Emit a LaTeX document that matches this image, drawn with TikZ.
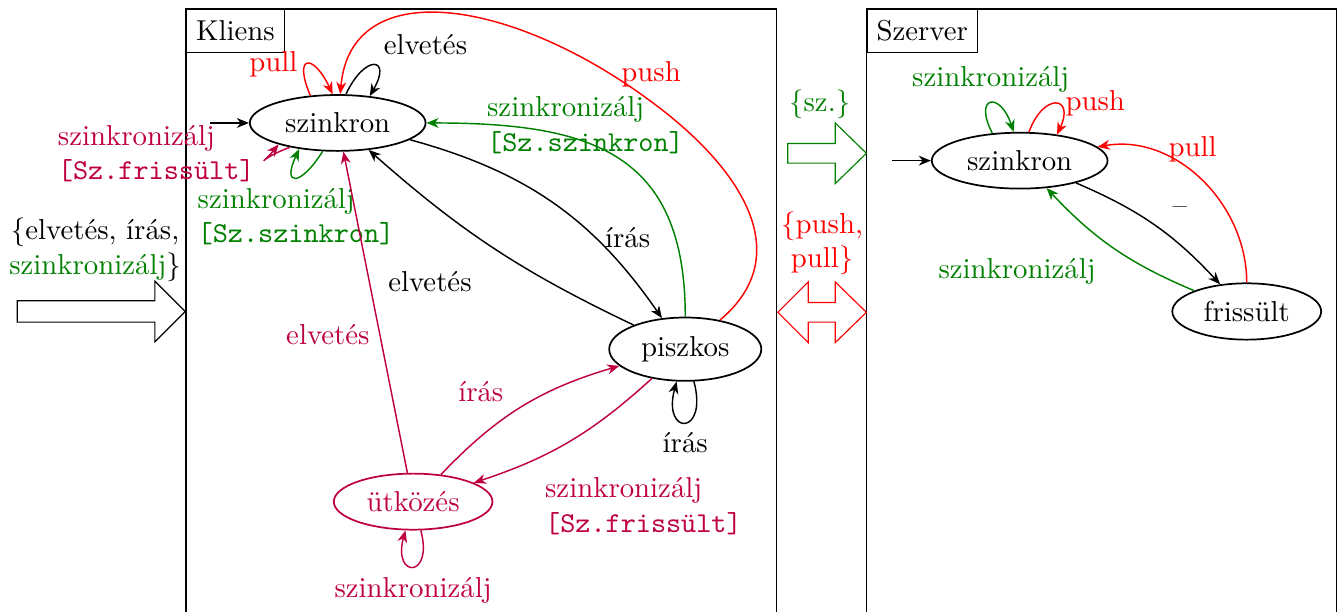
\documentclass[tikz,border=0pt]{standalone}
\usepackage{tikz}
\usetikzlibrary{arrows.meta,shapes.geometric}
\definecolor{zold}{rgb}{0,0.5,0}
\definecolor{bibor}{rgb}{0.75,0,0.25}
\tikzset{
  st/.style={draw, ellipse, semithick},
  tr/.style={line width=0.5pt, -{Stealth[length=4.2pt,width=3.4pt,inset=1.3pt]}},
  box/.style={draw, anchor=north west, minimum height=0.52cm},
  big/.style={draw, line join=miter},
}

\begin{document}
\begin{tikzpicture}
  \useasboundingbox (0,0) rectangle (16.36,7.47);

  % keretek
  \draw (2.27,0) |- (9.47,7.36) -- (9.47,0);
  \draw (10.57,0) |- (16.30,7.36) -- (16.30,0);
  \node[box] (kl) at (2.27,7.36) {Kliens};
  \node[box] (sz) at (10.57,7.36) {Szerver};

  % nagy nyilak
  \draw[big] (0.21,3.54) -- (1.89,3.54) -- (1.89,3.30) -- (2.26,3.67)
    -- (1.89,4.04) -- (1.89,3.80) -- (0.21,3.80) -- cycle;
  \draw[big,zold] (9.61,5.48) -- (10.19,5.48) -- (10.19,5.23) -- (10.57,5.60)
    -- (10.19,5.97) -- (10.19,5.72) -- (9.61,5.72) -- cycle;
  \draw[big,red] (9.49,3.66) -- (9.86,3.29) -- (9.86,3.54) -- (10.19,3.54)
    -- (10.19,3.29) -- (10.57,3.66) -- (10.19,4.03) -- (10.19,3.78)
    -- (9.86,3.78) -- (9.86,4.03) -- cycle;
  \node[align=center] (inlbl) at (1.16,4.42) {\{elvetés, írás,\\\textcolor{zold}{szinkronizálj}\}};
  \node[zold] (szlbl) at (10.00,6.20) {\{sz.\}};
  \node[red,align=center] (pplbl) at (10.03,4.50) {\{push,\\pull\}};

  % kliens
  \node[st] (ksz) at (4.12,5.97) {szinkron};
  \node[st] (pis) at (8.36,3.21) {piszkos};
  \node[st,bibor] (utk) at (5.04,1.35) {ütközés};
  \coordinate (kin) at (2.56,5.97);
  \coordinate (pushtop) at (8.09,6.12);

  \draw[tr] (kin) -- (ksz);
  \draw[tr,red] (ksz.135) to[out=113,in=115,distance=.55cm] node[left] {pull} (ksz.100);
  \draw[tr] (ksz.74) to[out=65,in=60,distance=.55cm] node[above right] {elvetés} (ksz.40);
  \draw[tr,bibor] (ksz.207) to[out=200,in=230,distance=.40cm]
    node[left,align=left,yshift=.07cm] {szinkronizálj\\\texttt{[Sz.frissült]}} (ksz.200);
  \draw[tr,zold] (ksz.242) to[out=238,in=245,distance=.51cm]
    node[below,align=left] {szinkronizálj\\\texttt{[Sz.szinkron]}} (ksz.214);
  \draw[tr] (ksz) to[bend left=20] node[pos=.68,right] {írás} (pis);
  \draw[tr] (pis) to[bend left=8] node[pos=.55,below left,yshift=-.25cm] {elvetés} (ksz);
  \draw[tr,zold] (pis) to[out=90,in=0,looseness=1.3]
    node[pos=.61,yshift=.21cm,align=left] {szinkronizálj\\\texttt{[Sz.szinkron]}} (ksz);
  \draw[tr,red] (pis) to[out=40,in=-38,distance=1.22cm] (pushtop)
    to[out=142,in=85,out distance=2.2cm,in distance=1.52cm] node[pos=.12,right] {push} (ksz);
  \draw[tr] (pis.-75) to[out=-75,in=-105,distance=.69cm] node[below] {írás} (pis.-105);
  \draw[tr,bibor] (utk) -- node[pos=.43,left] {elvetés} (ksz);
  \draw[tr,bibor] (utk) to[bend left=15] node[pos=.45,above left] {írás} (pis);
  \draw[tr,bibor] (pis) to[bend left=12]
    node[pos=.7,below right,align=left,yshift=-.1cm] {szinkronizálj\\\texttt{[Sz.frissült]}} (utk);
  \draw[tr,bibor] (utk.-75) to[out=-75,in=-105,distance=.61cm] node[below] {szinkronizálj} (utk.-105);

  % szerver
  \node[st] (ssz) at (12.44,5.51) {szinkron};
  \node[st] (fri) at (15.21,3.67) {frissült};
  \coordinate (sin) at (10.88,5.51);

  \draw[tr] (sin) -- (ssz);
  \draw[tr,zold] (ssz.135) to[out=117,in=108,distance=.52cm] node[above] {szinkronizálj} (ssz.102);
  \draw[tr,red] (ssz.72) to[out=70,in=65,distance=.52cm] node[right] {push} (ssz.35);
  \draw[tr] (ssz) to[bend left=12] node[pos=.5,above right,xshift=.1cm] {--} (fri);
  \draw[tr,red] (fri) to[out=90,in=10] node[pos=.55,above] {pull} (ssz);
  \draw[tr,zold] (fri) to[bend left=12] node[pos=.5,below left,xshift=-.1cm] {szinkronizálj} (ssz);
\end{tikzpicture}
\end{document}
